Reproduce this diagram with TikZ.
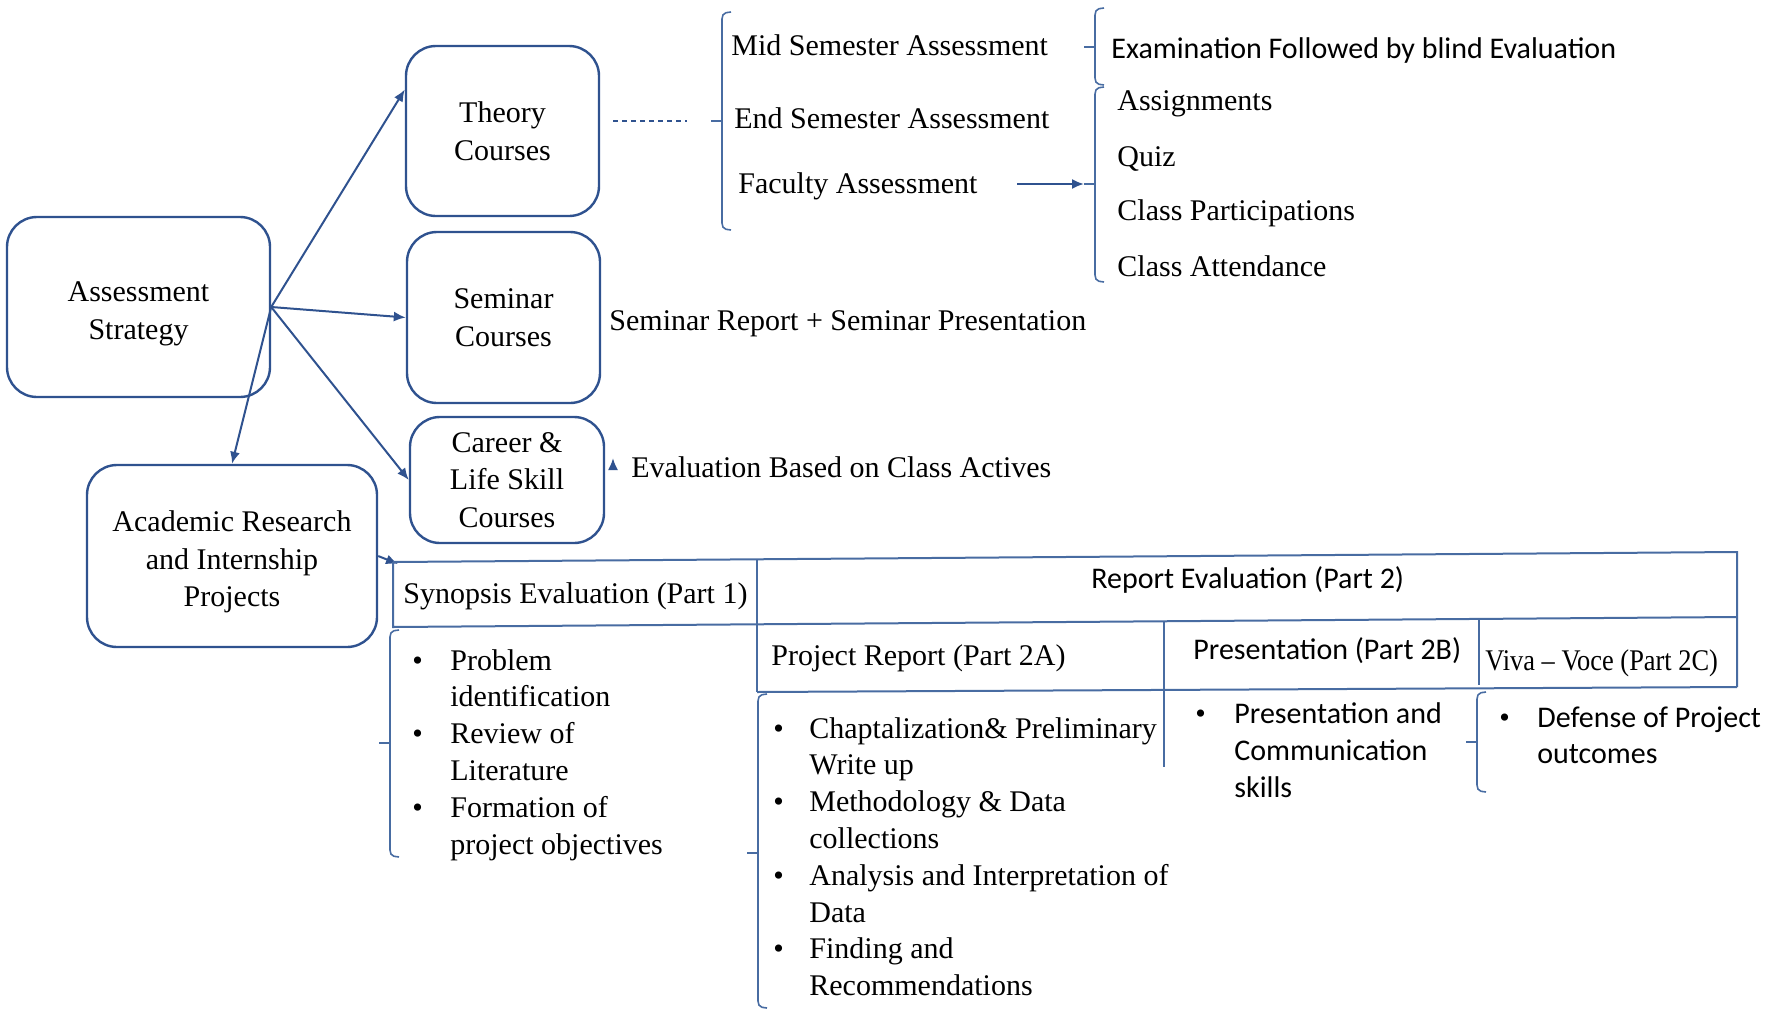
\documentclass[tikz,border=0pt]{standalone}
\usepackage{fontspec}
\setmainfont{Liberation Serif}
\newfontfamily\calfont{Carlito}
\newfontfamily\narrowfont[FakeStretch=0.88]{Liberation Serif}
\usetikzlibrary{arrows.meta}
\definecolor{boxblue}{RGB}{47,82,143}
\definecolor{lineblue}{RGB}{72,108,162}
\newcommand{\brk}[4]{%
  \draw[brkline] ({#1+9},#2) -- ({#1+2},{#2+1}) -- (#1,{#2+5}) -- (#1,{#3-5}) -- ({#1+2},{#3-1}) -- ({#1+9},#3);
  \draw[brkline] (#1,#4) -- ({#1-11},#4);}

\begin{document}
\begin{tikzpicture}[x=0.5pt,y=-0.5pt,
  box/.style={draw=boxblue,line width=1.2pt,rounded corners=15pt,align=center,inner sep=0pt,font=\fontsize{15}{18.75}\selectfont},
  txt/.style={anchor=base west,inner sep=0pt,font=\fontsize{15}{18}\selectfont},
  sans/.style={txt,font=\calfont\fontsize{15}{18}\selectfont},
  arr/.style={draw=boxblue,line width=1pt,-{Latex[length=6pt,width=5pt]}},
  tline/.style={draw=lineblue,line width=1pt},
  brkline/.style={draw=lineblue,line width=0.8pt,rounded corners=1pt}]
\useasboundingbox (0,0) rectangle (1771,1017);

\node[box,minimum width=131.5pt,minimum height=90pt] (strategy) at (138.5,307) {\rule{0pt}{16.5pt}Assessment\\Strategy};
\node[box,minimum width=96.5pt,minimum height=85pt] (theory) at (502.5,131) {Theory\\Courses};
\node[box,minimum width=96.5pt,minimum height=85.5pt] (seminar) at (503.5,317.5) {Seminar\\Courses};
\node[box,minimum width=97pt,minimum height=63pt] (career) at (507,480) {Career \&\\Life Skill\\Courses};
\node[box,minimum width=145pt,minimum height=91pt] (academic) at (232,556) {\rule{0pt}{16.5pt}Academic Research\\and Internship\\Projects};

\draw[arr] (strategy.east) -- (theory.157);
\draw[arr] (strategy.east) -- (seminar.west);
\draw[arr] (strategy.east) -- (career.west);
\draw[arr] (strategy.east) -- (academic.north);

% theory courses
\coordinate (dashA) at (613,121);
\coordinate (dashB) at (687,121);
\draw[boxblue,line width=1pt,dash pattern=on 2.5pt off 2pt] (dashA) -- (dashB);
\brk{722}{12}{230}{121}
\node[txt] (mid) at (731,55) {Mid Semester Assessment};
\node[txt] (endsem) at (734,128) {End Semester Assessment};
\node[txt] (faculty) at (738,193) {Faculty Assessment};
\brk{1095}{8}{85}{47}
\brk{1095}{87}{282}{184}
\coordinate (facA) at (1017,184);
\coordinate (facB) at (1084,184);
\draw[arr] (facA) -- (facB);
\node[sans] (exam) at (1111,58) {Examination Followed by blind Evaluation};
\node[txt] (assign) at (1117,110) {Assignments};
\node[txt] (quiz) at (1117,166) {Quiz};
\node[txt] (partic) at (1117,220) {Class Participations};
\node[txt] (attend) at (1117,276) {Class Attendance};

% seminar and career
\node[txt] (semrep) at (609,330) {Seminar Report + Seminar Presentation};
\coordinate (evalA) at (613,469);
\coordinate (evalB) at (613,458);
\draw[arr] (evalA) -- (evalB);
\node[txt] (evalcls) at (631,477) {Evaluation Based on Class Actives};

% project table
\coordinate (tTL) at (393,562);
\coordinate (tTR) at (1737,552);
\coordinate (tML) at (393,627);
\coordinate (tMR) at (1737,617);
\coordinate (tBL) at (757,692);
\coordinate (tBR) at (1737,687);
\coordinate (tIn) at (398,564);
\draw[arr] (academic.east) -- (tIn);
\draw[tline] (tTL) -- (tTR) -- (tBR);
\draw[tline] (tTL) -- (tML) -- (tMR);
\draw[tline] (tBL) -- (tBR);
\draw[tline] (757,559) -- (757,692);
\draw[tline] (1164,621) -- (1164,767);
\draw[tline] (1479,619) -- (1479,685);
\brk{390}{630}{857}{743}
\brk{758}{694}{1008}{853}
\brk{1477}{692}{792}{742}

\node[txt] (synopsis) at (403,603) {Synopsis Evaluation (Part 1)};
\node[sans] (repeval) at (1091,588) {Report Evaluation (Part 2)};
\node[txt] (projrep) at (771,665) {Project Report (Part 2A)};
\node[sans] (present) at (1193,659) {Presentation (Part 2B)};
\node[txt,font=\narrowfont\fontsize{15}{18}\selectfont] (viva) at (1485,670) {Viva – Voce (Part 2C)};

\foreach \entry [count=\i] in {Problem,identification,Review of,Literature,Formation of,project objectives}
  \node[txt] (syn\i) at (450,{670+(\i-1)*36.8}) {\entry};
\foreach \i in {1,3,5}
  \node[txt] (synb\i) at (412,{670+(\i-1)*36.8}) {\textbullet};

\foreach \entry [count=\i] in {Chaptalization\& Preliminary,Write up,Methodology \& Data,collections,Analysis and Interpretation of,Data,Finding and,Recommendations}
  \node[txt] (rep\i) at (809,{738+(\i-1)*36.8}) {\entry};
\foreach \i in {1,3,5,7}
  \node[txt] (repb\i) at (773,{738+(\i-1)*36.8}) {\textbullet};

\foreach \entry [count=\i] in {Presentation and,Communication,skills}
  \node[sans] (pres\i) at (1234,{723+(\i-1)*37}) {\entry};
\node[txt] (presb1) at (1195,723) {\textbullet};

\foreach \entry [count=\i] in {Defense of Project,outcomes}
  \node[sans] (viva\i) at (1537,{727+(\i-1)*36}) {\entry};
\node[txt] (vivab1) at (1499,727) {\textbullet};
\end{tikzpicture}
\end{document}
